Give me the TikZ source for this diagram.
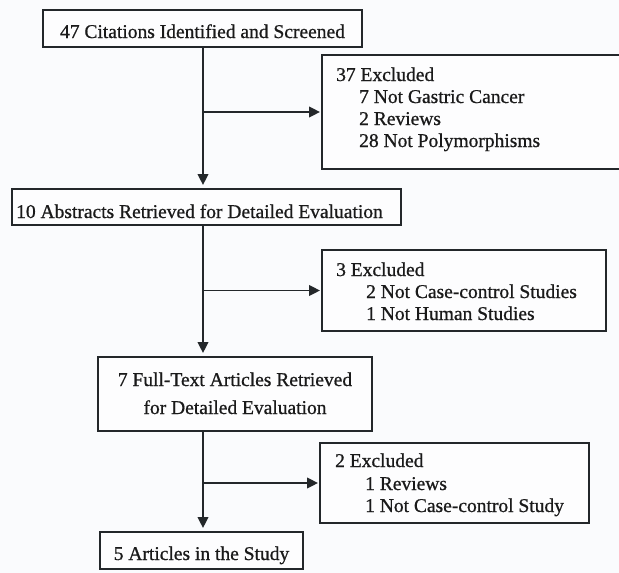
\documentclass[tikz,border=0pt]{standalone}
\usepackage{fontspec}
\setmainfont[FakeBold=0.8]{Liberation Serif}
\usetikzlibrary{arrows.meta}
\definecolor{bgc}{HTML}{FAFBFD}
\definecolor{linec}{HTML}{23272A}
\definecolor{txtc}{HTML}{1A1A1A}
\begin{document}
\begin{tikzpicture}[x=1pt,y=-1pt,
  boxn/.style={draw=linec, line width=1.9pt, rectangle, inner sep=0pt, fill=white!60!bgc},
  txt/.style={inner sep=0pt, text=txtc, font=\fontsize{19.5}{22}\selectfont},
  conn/.style={draw=linec, line width=1.9pt},
  arr/.style={conn, -{Triangle[length=11pt,width=10.5pt]}}
]
\path[fill=bgc] (0,0) rectangle (619,573);
\useasboundingbox (0,0) rectangle (619,573);

% boxes
\node[boxn, minimum width=319pt, minimum height=37pt] (b1) at (202.5,28.5) {};
\node[boxn, minimum width=303pt, minimum height=114pt] (e1) at (473.5,112) {};
\node[boxn, minimum width=389pt, minimum height=36pt] (b3) at (206.5,207) {};
\node[boxn, minimum width=284pt, minimum height=81pt] (e2) at (464,290.5) {};
\node[boxn, minimum width=274pt, minimum height=74pt] (b4) at (235,394) {};
\node[boxn, minimum width=269pt, minimum height=80pt] (e3) at (454.5,483) {};
\node[boxn, minimum width=203pt, minimum height=37pt] (b7) at (201.5,550.5) {};

% texts
\node[txt, anchor=base] (t1) at (202.5,38) {47 Citations Identified and Screened};
\node[txt, anchor=base west] (t2a) at (336,81) {37 Excluded};
\node[txt, anchor=base west] (t2b) at (359,103) {7 Not Gastric Cancer};
\node[txt, anchor=base west] (t2c) at (359,125) {2 Reviews};
\node[txt, anchor=base west] (t2d) at (359,147) {28 Not Polymorphisms};
\node[txt, anchor=base west] (t3) at (16,218) {10 Abstracts Retrieved for Detailed Evaluation};
\node[txt, anchor=base west] (t4a) at (336,276) {3 Excluded};
\node[txt, anchor=base west] (t4b) at (366,298) {2 Not Case-control Studies};
\node[txt, anchor=base west] (t4c) at (366,320) {1 Not Human Studies};
\node[txt, anchor=base] (t5a) at (235,386) {7 Full-Text Articles Retrieved};
\node[txt, anchor=base] (t5b) at (235,414) {for Detailed Evaluation};
\node[txt, anchor=base west] (t6a) at (335,467) {2 Excluded};
\node[txt, anchor=base west] (t6b) at (365,490) {1 Reviews};
\node[txt, anchor=base west] (t6c) at (365,512) {1 Not Case-control Study};
\node[txt, anchor=base] (t7) at (201.5,560) {5 Articles in the Study};

% connectors
\coordinate (s1) at ([xshift=0.5pt]b1.south);
\draw[arr, shorten >=3pt] (s1) -- (s1 |- b3.north);
\draw[arr, shorten >=1pt] (s1 |- e1.west) -- (e1.west);
\draw[arr, shorten >=3pt] (s1 |- b3.south) -- (s1 |- b4.north);
\draw[arr, shorten >=1pt] (s1 |- e2.west) -- (e2.west);
\draw[arr, shorten >=3pt] (s1 |- b4.south) -- (s1 |- b7.north);
\draw[arr, shorten >=1pt] (s1 |- e3.west) -- (e3.west);
\end{tikzpicture}
\end{document}
